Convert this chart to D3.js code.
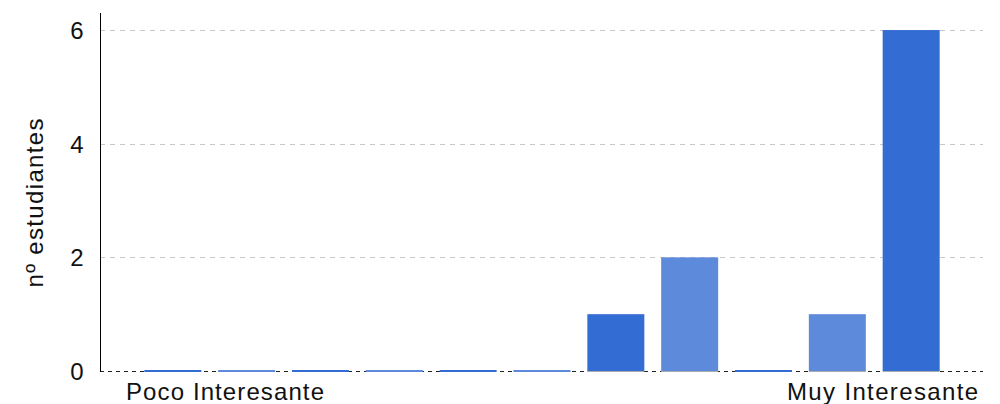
<!DOCTYPE html>
<html><head><meta charset="utf-8">
<script src="https://cdn.jsdelivr.net/npm/d3@7"></script>
<style>body{margin:0;background:#fff}svg{display:block;font-family:"Liberation Sans",Arial,sans-serif}</style>
</head><body>
<svg id="c" width="1000" height="404"></svg>
<script>
const categories = [1,2,3,4,5,6,7,8,9,10,11];
const values = [0,0,0,0,0,0,1,2,0,1,6];
const barColors = ["#336CD3","#5E8ADB","#336CD3","#5E8ADB","#336CD3","#5E8ADB","#336CD3","#5E8ADB","#336CD3","#5E8ADB","#336CD3"];
const yTicks = [0,2,4,6];
const xLabels = ["Poco Interesante","Muy Interesante"];
const yTitle = "nº estudiantes";

const svg = d3.select("#c");
const x = d3.scaleLinear().domain([0,12]).range([99,985]);
const y = d3.scaleLinear().domain([0,6.3]).range([371,13]);
const bw = 57;

// gridlines
svg.append("g").selectAll("line").data(yTicks.filter(d=>d>0)).join("line")
  .attr("x1",100).attr("x2",983).attr("y1",d=>Math.round(y(d))+0.5).attr("y2",d=>Math.round(y(d))+0.5)
  .attr("stroke","#c8c8c8").attr("stroke-dasharray","5,5");
// baseline
svg.append("line").attr("x1",100).attr("x2",983).attr("y1",y(0)+0.5).attr("y2",y(0)+0.5)
  .attr("stroke","#222").attr("stroke-dasharray","4,4");

// bars
svg.append("g").selectAll("rect").data(categories).join("rect")
  .attr("x",(d)=>x(d)-bw/2)
  .attr("width",bw)
  .attr("y",(d,i)=> values[i]>0 ? y(values[i]) : y(0)-1)
  .attr("height",(d,i)=> values[i]>0 ? y(0)-y(values[i]) : 2)
  .attr("fill",(d,i)=>barColors[i]);
svg.append("g").selectAll("line").data(categories.filter((d,i)=>values[i]>0)).join("line")
  .attr("x1",d=>x(d)-bw/2).attr("x2",d=>x(d)+bw/2).attr("y1",y(0)+0.5).attr("y2",y(0)+0.5)
  .attr("stroke","#aaa");

// y axis
const ya = d3.axisLeft(y).tickValues(yTicks).tickSize(0).tickPadding(17).tickFormat(d3.format("d"));
const g = svg.append("g").attr("transform","translate(100.5,0)").call(ya);
g.select(".domain").attr("d",`M0,13V${y(0)+1}`).attr("stroke","#000");
g.selectAll("text").attr("font-size",24).attr("fill","#111").attr("font-family","'Liberation Sans',Arial,sans-serif").attr("dy","0.36em");

// y title
svg.append("text").attr("transform","translate(43,203) rotate(-90)").attr("text-anchor","middle")
  .attr("font-size",24).attr("fill","#111").attr("textLength",169).attr("lengthAdjust","spacing").text(yTitle);

// x labels
svg.append("text").attr("x",126).attr("y",400).attr("font-size",24).attr("fill","#111")
  .attr("textLength",198).attr("lengthAdjust","spacing").text(xLabels[0]);
svg.append("text").attr("x",787).attr("y",400).attr("font-size",24).attr("fill","#111")
  .attr("textLength",191).attr("lengthAdjust","spacing").text(xLabels[1]);
</script>
</body></html>
